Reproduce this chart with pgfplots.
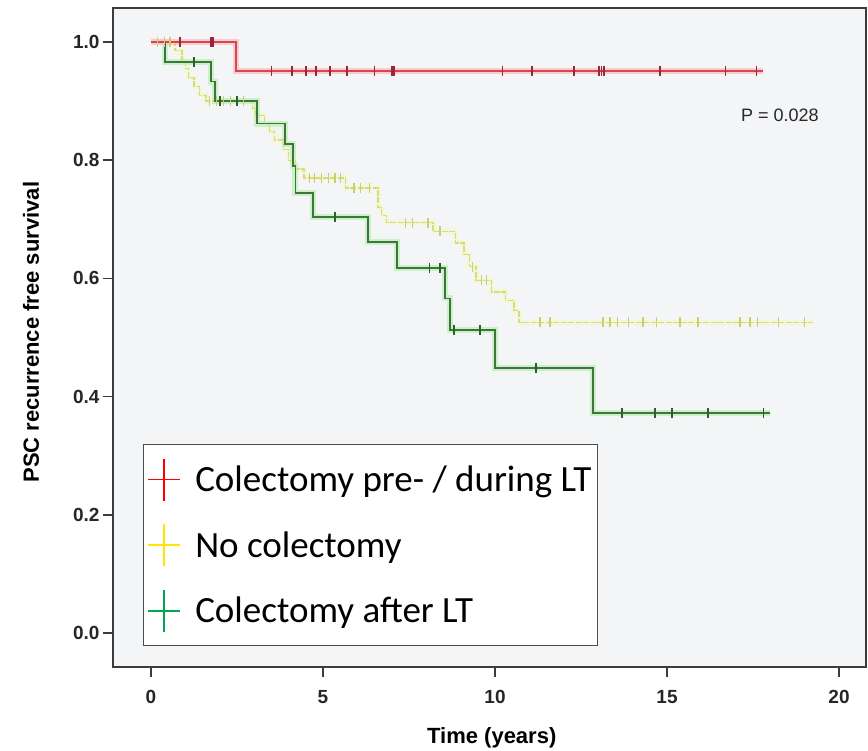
\documentclass[border=0pt]{standalone}
\usepackage{pgfplots}
\pgfplotsset{compat=1.18}
\usepackage{pgfplotstable}
\usepackage{fontspec}
\setmainfont{Liberation Sans}
\newfontfamily\legfont{Carlito}
\definecolor{bgc}{RGB}{244,245,247}
\definecolor{framec}{RGB}{60,60,60}
\definecolor{redcore}{RGB}{215,70,80}
\definecolor{redhalo}{RGB}{250,195,200}
\definecolor{redtick}{RGB}{150,40,55}
\definecolor{grncore}{RGB}{60,118,60}
\definecolor{grnhalo}{RGB}{195,240,190}
\definecolor{grntick}{RGB}{45,95,45}
\definecolor{ylwcore}{RGB}{218,218,125}
\definecolor{ylwhalo}{RGB}{242,247,212}
\definecolor{ylwtick}{RGB}{205,205,110}
\definecolor{legred}{RGB}{255,0,0}
\definecolor{legylw}{RGB}{255,230,0}
\definecolor{leggrn}{RGB}{0,166,81}

\pgfplotstableread{
x y
0 1
2.48 1
2.48 0.951
17.8 0.951
}\redcurve
\pgfplotstableread{
x y
0.84 1
1.74 1
1.80 1
3.5 0.951
4.1 0.951
4.5 0.951
4.8 0.951
5.2 0.951
5.7 0.951
6.5 0.951
7.0 0.951
7.06 0.951
10.22 0.951
11.07 0.951
12.3 0.951
13.03 0.951
13.1 0.951
13.17 0.951
14.8 0.951
16.7 0.951
17.6 0.951
}\redcens

\pgfplotstableread{
x y
0 1
0.7 1
0.7 0.985
0.9 0.985
0.9 0.97
1.0 0.97
1.0 0.955
1.1 0.955
1.1 0.94
1.25 0.94
1.25 0.925
1.4 0.925
1.4 0.91
1.6 0.91
1.6 0.90
2.95 0.90
2.95 0.888
3.05 0.888
3.05 0.876
3.3 0.876
3.3 0.862
3.45 0.862
3.45 0.848
3.6 0.848
3.6 0.834
3.85 0.834
3.85 0.818
4.0 0.818
4.0 0.80
4.2 0.80
4.2 0.785
4.45 0.785
4.45 0.77
5.65 0.77
5.65 0.753
6.6 0.753
6.6 0.72
6.7 0.72
6.7 0.707
6.85 0.707
6.85 0.694
8.2 0.694
8.2 0.68
8.85 0.68
8.85 0.66
9.1 0.66
9.1 0.64
9.25 0.64
9.25 0.62
9.45 0.62
9.45 0.597
9.9 0.597
9.9 0.577
10.3 0.577
10.3 0.563
10.55 0.563
10.55 0.545
10.7 0.545
10.7 0.526
19.25 0.526
}\ylwcurve
\pgfplotstableread{
x y
0.2 1
0.4 1
0.55 1
1.7 0.90
1.9 0.90
2.1 0.90
2.3 0.90
2.5 0.90
2.7 0.90
4.6 0.77
4.75 0.77
4.95 0.77
5.15 0.77
5.35 0.77
5.5 0.77
5.9 0.753
6.1 0.753
6.35 0.753
7.4 0.694
7.6 0.694
8.05 0.694
8.4 0.68
9.35 0.62
9.6 0.597
9.75 0.597
11.31 0.526
11.6 0.526
13.14 0.526
13.34 0.526
13.55 0.526
13.87 0.526
14.3 0.526
14.7 0.526
15.38 0.526
15.9 0.526
17.12 0.526
17.41 0.526
17.62 0.526
18.23 0.526
19.0 0.526
}\ylwcens

\pgfplotstableread{
x y
0 1
0.41 1
0.41 0.966
1.75 0.966
1.75 0.933
1.85 0.933
1.85 0.90
3.08 0.90
3.08 0.862
3.9 0.862
3.9 0.828
4.13 0.828
4.13 0.79
4.2 0.79
4.2 0.745
4.7 0.745
4.7 0.704
6.3 0.704
6.3 0.662
7.15 0.662
7.15 0.618
8.55 0.618
8.55 0.566
8.7 0.566
8.7 0.513
10.0 0.513
10.0 0.448
12.85 0.448
12.85 0.372
18.0 0.372
}\grncurve
\pgfplotstableread{
x y
1.25 0.966
2.0 0.90
2.5 0.90
5.35 0.704
8.1 0.618
8.4 0.618
8.8 0.513
9.56 0.513
11.2 0.448
13.7 0.372
14.65 0.372
15.15 0.372
16.2 0.372
17.8 0.372
}\grncens

\begin{document}
\begin{tikzpicture}
\begin{axis}[
  at={(113pt,84pt)}, anchor=south west,
  scale only axis,
  width=753pt, height=659pt,
  xmin=-1.105, xmax=20.785,
  ymin=-0.0575, ymax=1.0575,
  axis background/.style={fill=bgc},
  axis line style={line width=2pt, color=framec},
  tick pos=left,
  tick align=outside,
  major tick length=10pt,
  tick style={line width=1.5pt, color=framec},
  xtick={0,5,10,15,20},
  ytick={0,0.2,0.4,0.6,0.8,1.0},
  yticklabel style={/pgf/number format/.cd, fixed, fixed zerofill, precision=1},
  xticklabel style={yshift=-10pt},
  /pgf/number format/assume math mode=true,
  tick label style={font=\bfseries\fontsize{19}{22}\selectfont, color=black!85},
  xlabel={Time (years)},
  ylabel={PSC recurrence free survival},
  xlabel style={font=\bfseries\fontsize{22}{26}\selectfont, at={(axis description cs:0.503,-0.108)}, anchor=center},
  ylabel style={font=\bfseries\fontsize{22}{26}\selectfont, at={(axis description cs:-0.109,0.508)}, anchor=center},
  legend style={at={(axis description cs:0.0398,0.338)}, anchor=north west,
    draw=black!70, fill=white, line width=1pt,
    font=\legfont\fontsize{37}{42}\selectfont,
    inner xsep=4pt, inner ysep=13pt, row sep=22pt,
    cells={anchor=west}},
  legend image code/.code={
    \path[draw=none, fill=none] (0pt,0pt) -- (45pt,0pt);
    \draw[#1, line width=1.6pt] (0pt,0pt) -- (32pt,0pt);
    \draw[#1, line width=1.6pt] (16pt,-21pt) -- (16pt,21pt);
  },
]
% halos
\addplot[forget plot, ylwhalo, line width=5pt, opacity=0.8] table {\ylwcurve};
\addplot[forget plot, grnhalo, line width=6pt, opacity=0.8] table {\grncurve};
\addplot[forget plot, redhalo, line width=6pt, opacity=0.8] table {\redcurve};
% cores
\addplot[forget plot, ylwcore, line width=1.2pt, dash pattern=on 6pt off 1.5pt] table {\ylwcurve};
\addplot[forget plot, only marks, mark=|, mark size=5pt, ylwtick, mark options={line width=1.2pt}] table {\ylwcens};
\addplot[forget plot, grncore, line width=1.8pt] table {\grncurve};
\addplot[forget plot, only marks, mark=|, mark size=5pt, grntick, mark options={line width=1.6pt}] table {\grncens};
\addplot[forget plot, redcore, line width=1.8pt] table {\redcurve};
\addplot[forget plot, only marks, mark=|, mark size=5pt, redtick, mark options={line width=1.6pt}] table {\redcens};

\node[font=\fontsize{18}{20}\selectfont, color=black!85] at (axis cs:18.28,0.876) {P = 0.028};

\addlegendimage{legred}
\addlegendentry{Colectomy pre- / during LT}
\addlegendimage{legylw}
\addlegendentry{No colectomy}
\addlegendimage{leggrn}
\addlegendentry{Colectomy after LT}
\end{axis}
\pgfresetboundingbox
\useasboundingbox (0,0) rectangle (868pt,751pt);
\end{tikzpicture}
\end{document}
